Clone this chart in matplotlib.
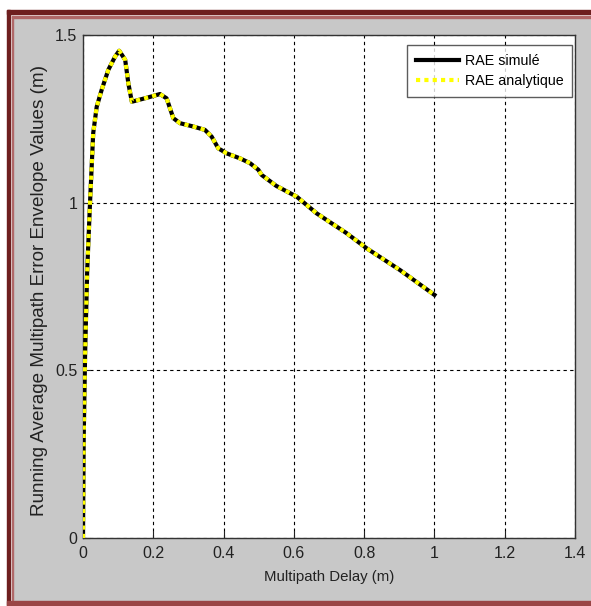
import matplotlib
matplotlib.use("Agg")
import matplotlib.pyplot as plt
from matplotlib.patches import Rectangle

plt.rcParams['font.family'] = ['Liberation Sans', 'DejaVu Sans']

# valeurs
delay = [0, 0.002, 0.006, 0.012, 0.02, 0.029, 0.039, 0.053, 0.072, 0.091,
         0.103, 0.12, 0.129, 0.139, 0.157, 0.186, 0.219, 0.238, 0.257, 0.276,
         0.314, 0.347, 0.366, 0.385, 0.409, 0.447, 0.475, 0.499, 0.508, 0.55,
         0.608, 0.665, 0.75, 0.807, 0.902, 1.0]
rae = [0, 0.3, 0.55, 0.8, 1.0, 1.207, 1.286, 1.336, 1.396, 1.435,
       1.453, 1.426, 1.356, 1.301, 1.306, 1.314, 1.324, 1.311, 1.252, 1.237,
       1.227, 1.217, 1.197, 1.162, 1.147, 1.132, 1.118, 1.098, 1.083, 1.05,
       1.018, 0.968, 0.909, 0.864, 0.799, 0.725]
xticks = [0, 0.2, 0.4, 0.6, 0.8, 1, 1.2, 1.4]
xlabels = ['0', '0.2', '0.4', '0.6', '0.8', '1', '1.2', '1.4']
yticks = [0, 0.5, 1, 1.5]
ylabels = ['0', '0.5', '1', '1.5']

W, H = 591, 606
fig = plt.figure(figsize=(W / 100, H / 100), dpi=100, facecolor='white')


def rect(x0, y0, x1, y1, color):
    # coordonnées en pixels, origine en haut à gauche
    fig.patches.append(Rectangle((x0 / W, 1 - y1 / H), (x1 - x0) / W, (y1 - y0) / H,
                                 transform=fig.transFigure, color=color, zorder=-5))


# cadre
rect(14, 19, W, 600, '#c8c8c8')
rect(7, 10, W, 14, '#6e1f1f')
rect(12, 16, W, 18, '#b06868')
rect(7, 10, 10, 606, '#6e1f1f')
rect(12, 16, 13.5, 600, '#b06868')
rect(7, 601, W, 605, '#9a4545')

ax = fig.add_axes([83 / W, 1 - 538 / H, (575 - 83) / W, (538 - 35) / H])
ax.set_zorder(1)
ax.set_facecolor('white')

ax.plot(delay, rae, color='black', lw=3, label='RAE simulé', zorder=3)
ax.plot(delay, rae, color='yellow', lw=3, linestyle=(0, (1, 1)),
        label='RAE analytique', zorder=4)

ax.set_xlim(0, 1.4)
ax.set_ylim(0, 1.5)
ax.set_xticks(xticks)
ax.set_xticklabels(xlabels, fontsize=11.5)
ax.set_yticks(yticks)
ax.set_yticklabels(ylabels, fontsize=11.5)
ax.tick_params(direction='in', length=5, colors='#222222')
ax.tick_params(axis='x', pad=6)
ax.tick_params(axis='y', pad=4)
ax.grid(True, color='black', linestyle=(0, (3, 3)), lw=0.8)
for s in ax.spines.values():
    s.set_color('#333333')
    s.set_linewidth(1.0)

ax.set_xlabel('Multipath Delay (m)', fontsize=10.8, color='#222222')
ax.xaxis.set_label_coords(0.5, -0.064)
ax.set_ylabel('Running Average Multipath Error Envelope Values (m)', fontsize=13.6,
              color='#222222')
ax.yaxis.set_label_coords(-0.071, 0.493)

leg = ax.legend(loc='upper right', prop={'size': 10.3},
                frameon=True, fancybox=False, handlelength=3.0, borderpad=0.6,
                labelspacing=0.45, handletextpad=0.4, borderaxespad=0,
                bbox_to_anchor=(0.994, 0.980))
leg.get_frame().set_edgecolor('#333333')
leg.get_frame().set_linewidth(1.0)

fig.savefig('out.png', dpi=100, facecolor=fig.get_facecolor())
